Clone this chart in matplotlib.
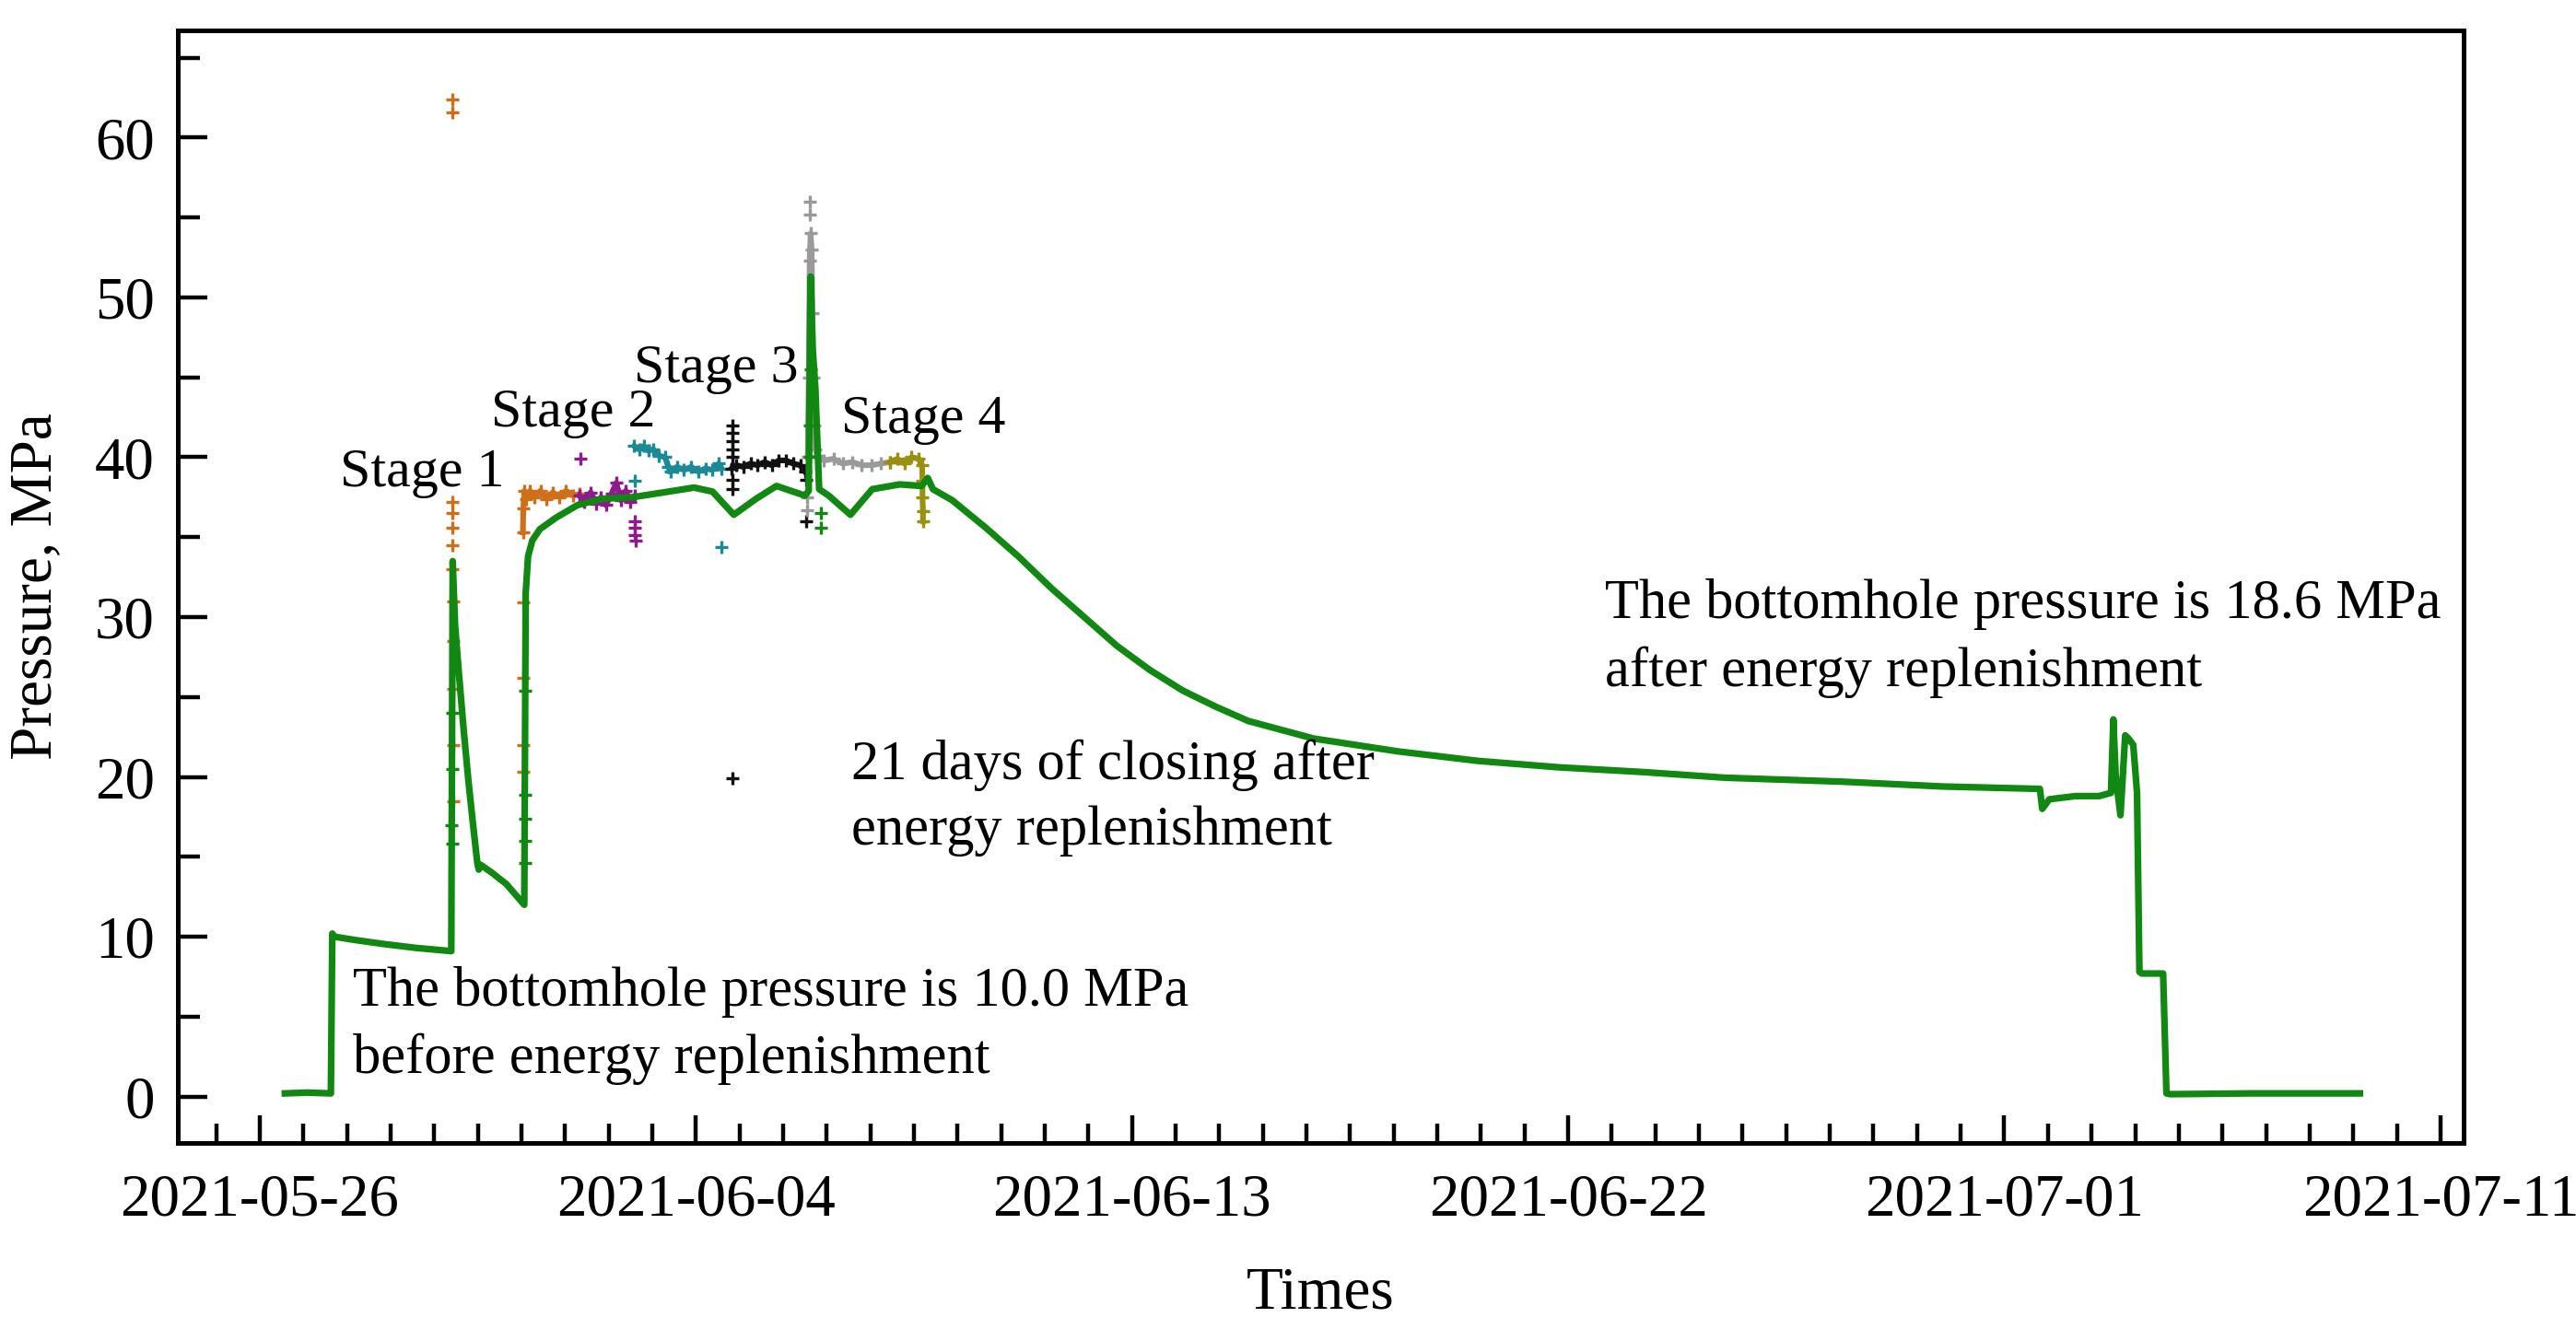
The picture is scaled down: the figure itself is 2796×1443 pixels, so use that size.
import numpy as np
import matplotlib
matplotlib.use("Agg")
import matplotlib.pyplot as plt
import matplotlib.dates as mdates
from matplotlib.ticker import FixedLocator, MultipleLocator

plt.rcParams['font.family'] = ['Liberation Serif', 'DejaVu Serif']

# days after 2021-05-26 00:00, pressure in MPa
green_days = [
    0.53, 1.00, 1.50, 1.53, 1.58, 2.00, 2.60, 3.30, 4.04, 4.07,
    4.12, 4.20, 4.30, 4.40, 4.50, 4.59, 4.62, 4.66, 4.90, 5.20,
    5.58, 5.61, 5.66, 5.75, 5.91, 6.24, 6.70, 7.22, 7.87, 8.52,
    9.16, 9.55, 10.00, 10.47, 10.90, 11.50, 11.58, 11.62, 11.66, 11.72,
    11.80, 12.00, 12.46, 12.92, 13.50, 13.96, 14.09, 14.20, 14.61, 15.31,
    16.00, 16.70, 17.39, 18.08, 18.77, 19.47, 20.16, 20.85, 22.23, 24.00,
    25.70, 27.40, 29.20, 30.90, 33.40, 35.50, 37.55, 37.60, 37.75, 38.30,
    38.80, 39.05, 39.10, 39.15, 39.25, 39.35, 39.42, 39.52, 39.60, 39.65,
    39.70, 40.15, 40.22, 40.30, 42.00, 44.30]
green_mpa = [
    0.2, 0.25, 0.2, 10.2, 10.0, 9.8, 9.55, 9.3, 9.1, 33.5,
    29.5, 26.5, 23.0, 19.8, 17.0, 14.6, 14.2, 14.5, 14.0, 13.3,
    12.0, 31.5, 33.8, 34.8, 35.5, 36.2, 37.0, 37.4, 37.5, 37.8,
    38.1, 37.85, 36.4, 37.4, 38.2, 37.6, 37.9, 51.3, 47.0, 44.3,
    38.0, 37.6, 36.4, 38.0, 38.3, 38.2, 38.7, 38.0, 37.3, 35.6,
    33.8, 31.8, 30.0, 28.2, 26.7, 25.4, 24.4, 23.5, 22.4, 21.6,
    21.0, 20.6, 20.3, 19.95, 19.7, 19.4, 19.25, 18.0, 18.6, 18.8,
    18.8, 19.0, 23.6, 20.0, 17.6, 22.6, 22.4, 22.0, 19.0, 7.8,
    7.7, 7.7, 0.2, 0.15, 0.2, 0.2]
green_pts_days = [4.05, 4.06, 4.06, 4.07, 5.60, 5.60, 5.60, 5.60, 5.60,
                  11.60, 11.60, 11.62, 11.84, 11.84]
green_pts_mpa = [17.0, 15.8, 20.5, 24.0, 25.4, 18.9, 17.4, 16.0, 14.6,
                 42.0, 40.0, 45.5, 36.5, 35.6]

orange_days = [5.55, 5.56, 5.58, 5.62, 5.70, 5.80, 5.92, 6.05, 6.18, 6.32, 6.46, 6.60, 6.74]
orange_mpa = [35.3, 36.8, 37.9, 37.4, 37.9, 37.5, 37.9, 37.4, 37.8, 37.5, 37.9, 37.6, 37.7]
orange_pts_days = [4.06, 4.06, 4.07, 4.07, 4.07, 4.08, 4.08, 4.08, 4.09, 4.09,
                   4.06, 4.06, 5.56, 5.56, 5.56, 5.56]
orange_pts_mpa = [37.2, 36.5, 35.6, 34.5, 33.0, 31.0, 28.5, 25.5, 22.0, 18.5,
                  62.4, 61.6, 30.9, 26.2, 22.0, 20.3]

purple_days = [6.74, 6.85, 6.98, 7.10, 7.20, 7.30, 7.42, 7.52, 7.62, 7.72, 7.82, 7.92]
purple_mpa = [37.6, 37.2, 37.8, 37.1, 37.5, 37.0, 37.7, 38.4, 37.3, 37.9, 37.2, 37.6]
purple_pts_days = [6.76, 7.92, 7.92, 7.92, 7.93]
purple_pts_mpa = [39.9, 36.0, 35.6, 35.1, 34.8]

teal_days = [7.90, 8.00, 8.10, 8.20, 8.30, 8.42, 8.55, 8.62, 8.66, 8.80,
             8.95, 9.10, 9.25, 9.40, 9.55, 9.68, 9.74]
teal_mpa = [40.7, 40.5, 40.7, 40.4, 40.5, 40.1, 40.0, 39.4, 39.1, 39.4,
            39.2, 39.4, 39.1, 39.3, 39.2, 39.6, 39.3]
teal_pts_days = [7.92, 9.73]
teal_pts_mpa = [38.5, 34.4]

black_days = [9.96, 10.05, 10.20, 10.35, 10.50, 10.65, 10.80, 10.95, 11.10, 11.25, 11.40, 11.50]
black_mpa = [39.3, 39.5, 39.4, 39.6, 39.5, 39.7, 39.5, 39.8, 39.8, 39.6, 39.5, 39.1]
black_pts_days = [9.98, 9.98, 9.98, 9.98, 9.98, 9.98, 9.98, 9.98, 11.52, 11.53]
black_pts_mpa = [42.0, 41.5, 41.0, 40.5, 40.0, 38.6, 38.0, 19.9, 38.6, 36.0]

gray_days = [11.56, 11.58, 11.60, 11.62, 11.64, 11.66, 11.68, 11.70, 11.72, 11.76,
             11.90, 12.10, 12.30, 12.50, 12.70, 12.90, 13.10, 13.30]
gray_mpa = [40.0, 45.0, 52.3, 54.0, 53.0, 49.0, 45.0, 42.0, 40.5, 40.1,
            39.8, 39.9, 39.6, 39.7, 39.5, 39.5, 39.6, 39.7]
gray_pts_days = [11.60, 11.61, 11.55, 11.55]
gray_pts_mpa = [56.0, 55.2, 37.5, 36.7]

olive_days = [13.30, 13.45, 13.60, 13.75, 13.90, 13.97, 13.98, 13.98, 13.99, 13.99]
olive_mpa = [39.7, 39.9, 39.6, 40.0, 39.9, 39.5, 38.5, 37.5, 36.6, 36.0]

stage_labels = ["Stage 1", "Stage 2", "Stage 3", "Stage 4"]
stage_days = [1.69, 4.88, 7.89, 12.26]
stage_mpa = [38.2, 41.9, 44.7, 41.5]

base = mdates.date2num(np.datetime64("2021-05-26"))


def t(days):
    return base + np.asarray(days, dtype=float)


fig = plt.figure(figsize=(13.98, 7.215), dpi=200)
ax = fig.add_axes([0.069, 0.140, 0.8874, 0.8371])

series = [
    (orange_days, orange_mpa, orange_pts_days, orange_pts_mpa, "#CF6F1A"),
    (purple_days, purple_mpa, purple_pts_days, purple_pts_mpa, "#8E1A8E"),
    (teal_days, teal_mpa, teal_pts_days, teal_pts_mpa, "#1C8A96"),
    (black_days, black_mpa, black_pts_days, black_pts_mpa, "#111111"),
    (gray_days, gray_mpa, gray_pts_days, gray_pts_mpa, "#9A9A9A"),
    (olive_days, olive_mpa, [], [], "#9A9010"),
]
for d, p, dd, pp, c in series:
    ax.plot(t(d), p, color=c, lw=2.2, marker="+", ms=5, mew=1.2)
    if dd:
        ax.plot(t(dd), pp, ls="none", color=c, marker="+", ms=5, mew=1.2)

ax.plot(t(green_days), green_mpa, color="#118811", lw=2.6)
ax.plot(t(green_pts_days), green_pts_mpa, ls="none", color="#118811", marker="+", ms=5, mew=1.2)

# labels on the chart
for lab, d, p in zip(stage_labels, stage_days, stage_mpa):
    ax.text(t(d), p, lab, fontsize=21.6, ha="left", va="baseline")

notes = [
    (1.96, 5.69, "The bottomhole pressure is 10.0 MPa"),
    (1.96, 1.48, "before energy replenishment"),
    (12.48, 19.88, "21 days of closing after"),
    (12.48, 15.79, "energy replenishment"),
    (28.38, 29.93, "The bottomhole pressure is 18.6 MPa"),
    (28.38, 25.67, "after energy replenishment"),
]
for d, p, s in notes:
    ax.text(t(d), p, s, fontsize=21.8, ha="left", va="baseline")

# axes
ax.set_xlim(t(-1.73), t(46.49))
ax.set_ylim(-2.9, 66.7)

major = [base + 9.2 * k for k in range(6)]
minor = [base + 0.92 * k for k in range(-1, 51) if k % 10 != 0]
ax.xaxis.set_major_locator(FixedLocator(major))
ax.xaxis.set_minor_locator(FixedLocator(minor))
ax.xaxis.set_major_formatter(mdates.DateFormatter("%Y-%m-%d"))
ax.yaxis.set_major_locator(MultipleLocator(10))
ax.yaxis.set_minor_locator(MultipleLocator(5))

ax.tick_params(axis="both", which="both", direction="in", top=False, right=False,
               labelsize=23.3, width=1.6)
ax.tick_params(axis="x", which="major", length=10.8, pad=12)
ax.tick_params(axis="x", which="minor", length=7.5)
ax.tick_params(axis="y", which="major", length=11.5, pad=9)
ax.tick_params(axis="y", which="minor", length=8.5)
for sp in ax.spines.values():
    sp.set_linewidth(1.8)

ax.set_xlabel("Times", fontsize=23.5, labelpad=15)
ax.set_ylabel("Pressure, MPa", fontsize=23.5, labelpad=12)

fig.savefig("out.png", dpi=200)
